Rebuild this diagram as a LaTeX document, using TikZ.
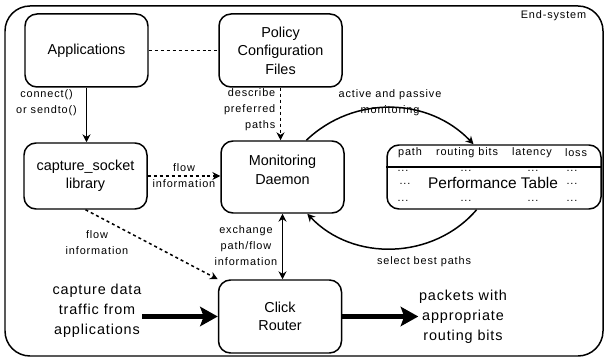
\documentclass[tikz,border=0pt]{standalone}
\usepackage{fontspec}
\setmainfont{Liberation Sans}
\newfontfamily\lblfont[LetterSpace=8]{Liberation Sans}
\newfontfamily\bigfont[LetterSpace=6]{Liberation Sans}
\usetikzlibrary{arrows.meta,calc}
\tikzset{
	boxfont/.style={font=\fontsize{8.2}{10.5}\selectfont},
	box/.style={draw, rounded corners=0.24cm, minimum width=2.46cm, minimum height=1.46cm, inner sep=0pt, align=center, boxfont},
	lbl/.style={align=center, inner sep=0pt, font=\lblfont\fontsize{6.2}{9.07}\selectfont},
	bigtxt/.style={align=center, inner sep=0pt, font=\bigfont\fontsize{8.2}{11.3}\selectfont},
	dots/.style={dash pattern=on 1.7pt off 1.7pt},
	tip/.style={-{Stealth[length=4.5pt,width=4.5pt]}},
	tips/.style={{Stealth[length=4.5pt,width=4.5pt]}-{Stealth[length=4.5pt,width=4.5pt]}},
	fat/.style={line width=2.8pt, -{Stealth[length=10pt,width=11pt,inset=2pt]}},
}

\begin{document}
\begin{tikzpicture}[line width=0.85pt]
	\useasboundingbox (0,0) rectangle (12.1,7.16);
	\draw[rounded corners=0.5cm] (0.1,0.04) rectangle (12.06,7.04);
	\node[lbl] (endsys) at (11.07,6.84) {End-system};
	%%%%% boxes
	\node[box] (apps) at (1.73,6.15) {Applications};
	\node[box] (policy) at (5.61,6.15) {Policy\\Configuration\\Files};
	\node[box, minimum height=1.32cm] (capsock) at (1.71,3.64) {capture\_socket\\library};
	\node[box, minimum height=1.44cm] (daemon) at (5.65,3.62) {};
	\node[align=center, inner sep=0pt, boxfont] (daemontxt) at (5.65,3.76) {Monitoring\\Daemon};
	\node[box] (click) at (5.60,0.83) {Click\\Router};
	%%%%% performance table
	\node[draw, rounded corners=0.24cm, minimum width=4.28cm, minimum height=1.28cm, inner sep=0pt] (perftab) at (9.88,3.62) {};
	\coordinate (hdr) at (0,3.82);
	\draw[line width=0.6pt] (perftab.west |- hdr) -- (perftab.east |- hdr);
	\foreach \x/\t [count=\i] in {8.20/path, 9.34/routing bits, 10.64/latency, 11.52/loss}
		\node[lbl] (head\i) at (\x,4.10) {\t};
	\foreach \x [count=\i] in {8.06,9.32,10.66,11.44} {
		\node[lbl, anchor=base] (rowa\i) at (\x,3.72) {...};
		\node[lbl, anchor=base] (rowc\i) at (\x,3.12) {...};
	}
	\node[lbl, anchor=base] (rowb1) at (8.10,3.46) {...};
	\node[lbl, anchor=base] (rowb2) at (11.44,3.46) {...};
	\node[anchor=base, inner sep=0pt, font=\fontsize{8.8}{10.5}\selectfont] (perftxt) at (9.86,3.38) {Performance Table};
	%%%%% connectors
	\draw[tip] (apps.south) -- (apps.south |- capsock.north);
	\node[lbl] (lconn) at (0.93,5.11) {connect()\\or sendto()};
	\draw[dots] (apps.east) -- (policy.west);
	\draw[dots,tip] (policy.south) -- (policy.south |- daemon.north);
	\node[lbl, align=right, anchor=east] (ldesc) at (5.52,4.96) {describe\\preferred\\paths};
	\draw[dots,tip] (capsock.east) -- (capsock.east -| daemon.west)
		node[lbl, midway] (lflowa) {flow\\information};
	\draw[dots,tip] (capsock.south) -- (click.north west);
	\node[lbl] (lflowb) at (1.94,2.30) {flow\\information};
	\draw[tips] (daemon.south) -- (daemon.south |- click.north);
	\node[lbl] (lexch) at (4.92,2.24) {exchange\\path/flow\\information};
	\draw[tip] (daemon.57) to[bend left=45] (perftab.122);
	\node[lbl] (lmon) at (7.80,5.10) {active and passive\\monitoring};
	\draw[tip] (perftab.242) to[bend left=48] (daemon.304);
	\node[lbl] (lsel) at (8.48,1.92) {select best paths};
	%%%%% data path
	\node[bigtxt] (trafin) at (1.94,0.94) {capture data\\traffic from\\applications};
	\draw[fat] (trafin.east |- click.west) -- (click.west);
	\node[bigtxt] (pktout) at (9.26,0.82) {packets with\\appropriate\\routing bits};
	\draw[fat] (click.east) -- (click.east -| pktout.west);
\end{tikzpicture}
\end{document}
